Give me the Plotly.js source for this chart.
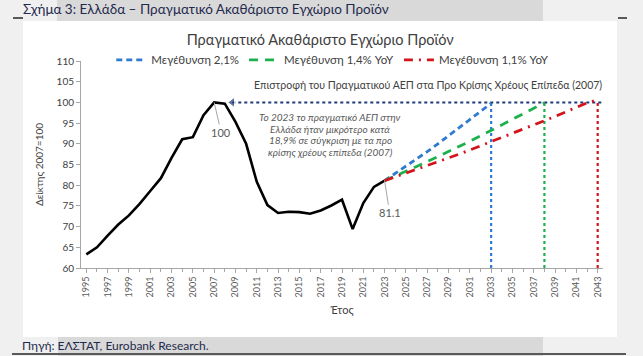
<!DOCTYPE html>
<html><head><meta charset="utf-8">
<script src="https://cdn.plot.ly/plotly-3.0.1.min.js"></script>
<style>
body{margin:0;background:#f0f0f0;}
#wrap{position:relative;width:643px;height:356px;overflow:hidden;background:#f0f0f0;}
.bg{position:absolute;}
#chart{position:absolute;left:0;top:0;width:643px;height:356px;}
</style></head><body>
<div id="wrap">
<div class="bg" style="left:57px;top:0;width:486px;height:21px;background:#d9d9d9"></div>
<div class="bg" style="left:23px;top:21px;width:594px;height:316px;background:#ffffff"></div>
<div class="bg" style="left:58px;top:337px;width:485px;height:19px;background:#d9d9d9"></div>
<div class="bg" style="left:12px;top:353px;width:614px;height:2px;background:#595959"></div>
<div class="bg" style="left:13px;top:17px;width:10px;height:2px;background:#595959"></div>
<div class="bg" style="left:618px;top:17px;width:9px;height:2px;background:#595959"></div>
<div id="chart"></div>
</div>
<script>
// ---- data ----
const years = [1995,1996,1997,1998,1999,2000,2001,2002,2003,2004,2005,2006,2007,2008,2009,2010,2011,2012,2013,2014,2015,2016,2017,2018,2019,2020,2021,2022,2023];
const gdpIndex = [63.3,65.0,67.8,70.5,72.7,75.5,78.6,81.7,86.6,91.1,91.6,96.9,100.0,99.7,95.3,90.0,80.8,75.2,73.3,73.6,73.5,73.1,73.9,75.1,76.5,69.4,75.7,79.6,81.1];

const blueYears = [2023,2024,2025,2026,2027,2028,2029,2030,2031,2032,2033];
const blueValues = [81.1,82.8,84.5,86.3,88.1,90.0,91.9,93.8,95.8,97.8,99.8];

const greenYears = [2023,2024,2025,2026,2027,2028,2029,2030,2031,2032,2033,2034,2035,2036,2037,2038];
const greenValues = [81.1,82.2,83.4,84.5,85.7,86.9,88.1,89.4,90.6,91.9,93.2,94.5,95.8,97.1,98.5,99.9];

const redYears = [2023,2024,2025,2026,2027,2028,2029,2030,2031,2032,2033,2034,2035,2036,2037,2038,2039,2040,2041,2042,2043];
const redValues = [81.1,82.0,82.9,83.8,84.7,85.6,86.6,87.5,88.5,89.5,90.5,91.5,92.5,93.5,94.5,95.6,96.6,97.7,98.8,99.9,100.6];

const seriesNames = ['Μεγέθυνση 2,1%','Μεγέθυνση 1,4% YoY','Μεγέθυνση 1,1% YoY'];
const recoveryYears = [2033, 2038, 2043];
const preCrisisLevel = 100;
const axisMin = 60;
const arrowYears = [2008.7, 2043.5];

const peakYear = 2007, peakValue = 100;
const lastYear = 2023, lastValue = 81.1;

const noteLines = ['Το 2023 το πραγματικό ΑΕΠ στην','Ελλάδα ήταν μικρότερο κατά','18,9% σε σύγκριση με τα προ','κρίσης χρέους επίπεδα (2007)'];

// ---- styles ----
const cBlue = '#2e7bd0', cGreen = '#1db14d', cRed = '#d3141c', cNavy = '#1f3a78';
const font = 'Lato, "Open Sans", sans-serif';
// pixel -> paper helpers for plot area (l=81, w=522, t=61, h=207)
const px = p => (p - 81) / 522;
const py = p => (268 - p) / 207;

const traces = [
  {x: years, y: gdpIndex, mode: 'lines', line: {color: '#000', width: 2.6}, showlegend: false, hoverinfo: 'skip'},
  {x: [recoveryYears[0], recoveryYears[0]], y: [axisMin, preCrisisLevel], mode: 'lines', line: {color: cBlue, width: 2.2, dash: 'dot'}, showlegend: false},
  {x: [recoveryYears[1], recoveryYears[1]], y: [axisMin, preCrisisLevel], mode: 'lines', line: {color: cGreen, width: 2.2, dash: 'dot'}, showlegend: false},
  {x: [recoveryYears[2], recoveryYears[2]], y: [axisMin, preCrisisLevel], mode: 'lines', line: {color: cRed, width: 2.2, dash: 'dot'}, showlegend: false},
  {x: arrowYears, y: [preCrisisLevel, preCrisisLevel], mode: 'lines+markers', line: {color: cNavy, width: 2, dash: 'dot'},
   marker: {symbol: ['triangle-left','circle'], size: [9,0], color: cNavy}, showlegend: false},
  {x: blueYears, y: blueValues, name: seriesNames[0], mode: 'lines', line: {color: cBlue, width: 2.8, dash: '6px,4px'}},
  {x: greenYears, y: greenValues, name: seriesNames[1], mode: 'lines', line: {color: cGreen, width: 2.8, dash: '9px,7px'}},
  {x: redYears, y: redValues, name: seriesNames[2], mode: 'lines', line: {color: cRed, width: 2.8, dash: '9px,6px,2px,6px'}}
];

const noteAnn = noteLines.map((t, i) => ({
  xref: 'paper', yref: 'paper', x: px(330), y: py(117 + i * 11.6), xanchor: 'center', yanchor: 'middle', showarrow: false,
  text: '<i>' + t + '</i>', font: {size: 10, color: '#595959'}
}));

const layout = {
  width: 643, height: 356,
  margin: {l: 81, r: 40, t: 61, b: 88},
  paper_bgcolor: 'rgba(0,0,0,0)', plot_bgcolor: 'rgba(0,0,0,0)',
  font: {family: font, color: '#595959'},
  title: {text: 'Πραγματικό Ακαθάριστο Εγχώριο Προϊόν', x: 0.498, xref: 'container', xanchor: 'center',
          y: 1 - 40/356, yref: 'container', yanchor: 'middle', font: {size: 14.5, color: '#404040', family: font}},
  showlegend: true,
  legend: {orientation: 'h', x: 0.058, xanchor: 'left', y: 1.005, yanchor: 'middle', font: {size: 11.5, color: '#404040'},
           bgcolor: 'rgba(0,0,0,0)', itemwidth: 30, tracegroupgap: 0},
  xaxis: {range: [1994.5, 2043.5], tickmode: 'linear', tick0: 1995, dtick: 2, ticks: 'outside', ticklen: 4, tickcolor: '#a6a6a6',
          showline: true, linecolor: '#a6a6a6', linewidth: 1, showgrid: false, zeroline: false, tickangle: -90,
          tickfont: {size: 9, color: '#595959'},
          minor: {tick0: 1995, dtick: 1, ticks: 'outside', ticklen: 3, tickcolor: '#a6a6a6', showgrid: false},
          title: {text: 'Έτος', font: {size: 11, color: '#404040'}, standoff: 9}},
  yaxis: {range: [60, 110], tickmode: 'linear', tick0: 60, dtick: 5, ticks: 'outside', ticklen: 4, tickcolor: '#a6a6a6',
          showline: true, linecolor: '#a6a6a6', linewidth: 1, showgrid: false, zeroline: false,
          tickfont: {size: 10, color: '#404040'},
          title: {text: 'Δείκτης 2007=100', font: {size: 10, color: '#404040'}, standoff: 11}},
  annotations: [
    {xref: 'paper', yref: 'paper', x: px(21), y: py(9), xanchor: 'left', yanchor: 'middle', showarrow: false,
     text: 'Σχήμα 3: Ελλάδα – Πραγματικό Ακαθάριστο Εγχώριο Προϊόν', font: {size: 13.5, color: '#1f2a4d'}},
    {xref: 'paper', yref: 'paper', x: px(20), y: py(345), xanchor: 'left', yanchor: 'middle', showarrow: false,
     text: 'Πηγή: ΕΛΣΤΑΤ, Eurobank Research.', font: {size: 12, color: '#1f2a4d'}},
    {xref: 'paper', yref: 'paper', x: px(604), y: py(85), xanchor: 'right', yanchor: 'middle', showarrow: false,
     text: 'Επιστροφή του Πραγματικού ΑΕΠ στα Προ Κρίσης Χρέους Επίπεδα (2007)', font: {size: 10.5, color: '#404040'}},
    {xref: 'x', yref: 'y', x: peakYear, y: peakValue, ax: 7, ay: 30, showarrow: true, arrowhead: 0, arrowwidth: 1, arrowcolor: '#a6a6a6',
     text: String(peakValue), font: {size: 11, color: '#595959'}},
    {xref: 'x', yref: 'y', x: lastYear, y: lastValue, ax: 5, ay: 32, showarrow: true, arrowhead: 0, arrowwidth: 1, arrowcolor: '#a6a6a6',
     text: String(lastValue), font: {size: 11, color: '#595959'}}
  ].concat(noteAnn)
};

Plotly.newPlot('chart', traces, layout, {displayModeBar: false, staticPlot: true});
</script>
</body></html>
